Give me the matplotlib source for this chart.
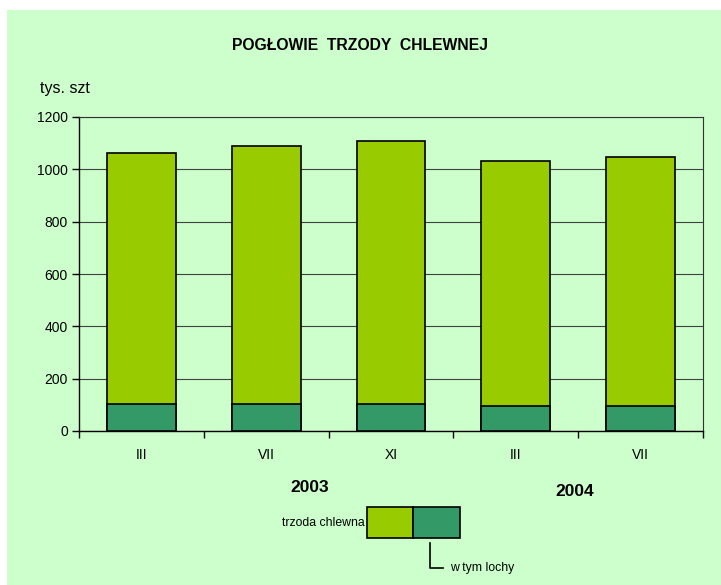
import matplotlib
matplotlib.use("Agg")
import matplotlib.pyplot as plt
from matplotlib.patches import Rectangle
from matplotlib.lines import Line2D

plt.rcParams['font.family'] = ['Liberation Sans', 'DejaVu Sans']

categories = ["III", "VII", "XI", "III", "VII"]
total = [1064, 1089, 1107, 1033, 1047]
sows = [102, 102, 102, 97, 97]
years = ["2003", "2004"]
title = "POGŁOWIE  TRZODY  CHLEWNEJ"

bg = "#CCFFCC"
c_total = "#99CC00"
c_sows = "#339966"

W, H = 721, 585
fig = plt.figure(figsize=(W / 100, H / 100), dpi=100)
fig.patch.set_facecolor("white")
fig.add_artist(Rectangle((7 / W, 0), 1 - 7 / W, 1 - 10 / H, transform=fig.transFigure,
                         facecolor=bg, edgecolor="none", zorder=-10))

ax = fig.add_axes([79 / W, (H - 431) / H, (703 - 79) / W, (431 - 117) / H])
ax.set_facecolor(bg)
x = list(range(len(categories)))
ax.bar(x, total, width=0.55, color=c_total, edgecolor="black", linewidth=1.2, zorder=3)
ax.bar(x, sows, width=0.55, color=c_sows, edgecolor="black", linewidth=1.2, zorder=4)

ax.set_xlim(-0.5, len(categories) - 0.5)
ax.set_ylim(0, 1200)
ax.set_yticks(range(0, 1201, 200))
ax.yaxis.grid(True, color="#404040", linewidth=0.8, zorder=1)
ax.set_axisbelow(True)
ax.set_xticks([i - 0.5 for i in range(len(categories) + 1)])
ax.set_xticklabels([])
ax.set_xticks(x, minor=True)
ax.set_xticklabels(categories, minor=True)
ax.tick_params(axis="x", which="minor", length=0, pad=12, labelsize=10)
ax.tick_params(axis="x", which="major", length=5, width=1, direction="out")
ax.tick_params(axis="y", length=5, width=1, direction="out", labelsize=10, pad=3)
for s in ax.spines.values():
    s.set_linewidth(1.0)
    s.set_color("black")
for s in ["top", "right"]:
    ax.spines[s].set_color("#333333")
    ax.spines[s].set_linewidth(0.8)

fig.text(360 / W, 1 - 45 / H, title, ha="center", va="center", fontsize=11.3, fontweight="bold")
fig.text(40 / W, 1 - 88 / H, "tys. szt", ha="left", va="center", fontsize=11.5)
fig.text(310 / W, 1 - 488 / H, years[0], ha="center", va="center", fontsize=12.5, fontweight="bold")
fig.text(575 / W, 1 - 492 / H, years[1], ha="center", va="center", fontsize=12.5, fontweight="bold")

# legend
fig.add_artist(Rectangle((367 / W, 1 - 538 / H), 46 / W, 31 / H, transform=fig.transFigure,
                         facecolor=c_total, edgecolor="black", linewidth=1.2))
fig.add_artist(Rectangle((413 / W, 1 - 538 / H), 47 / W, 31 / H, transform=fig.transFigure,
                         facecolor=c_sows, edgecolor="black", linewidth=1.2))
fig.text(365 / W, 1 - 523 / H, "trzoda chlewna", ha="right", va="center", fontsize=8.8)
fig.add_artist(Line2D([430 / W, 430 / W, 443 / W], [1 - 543 / H, 1 - 568 / H, 1 - 568 / H],
                      transform=fig.transFigure, color="black", linewidth=1.2))
fig.text(450 / W, 1 - 568 / H, "w tym lochy", ha="left", va="center", fontsize=8.8)

fig.savefig("out.png", dpi=100, facecolor=fig.get_facecolor())
